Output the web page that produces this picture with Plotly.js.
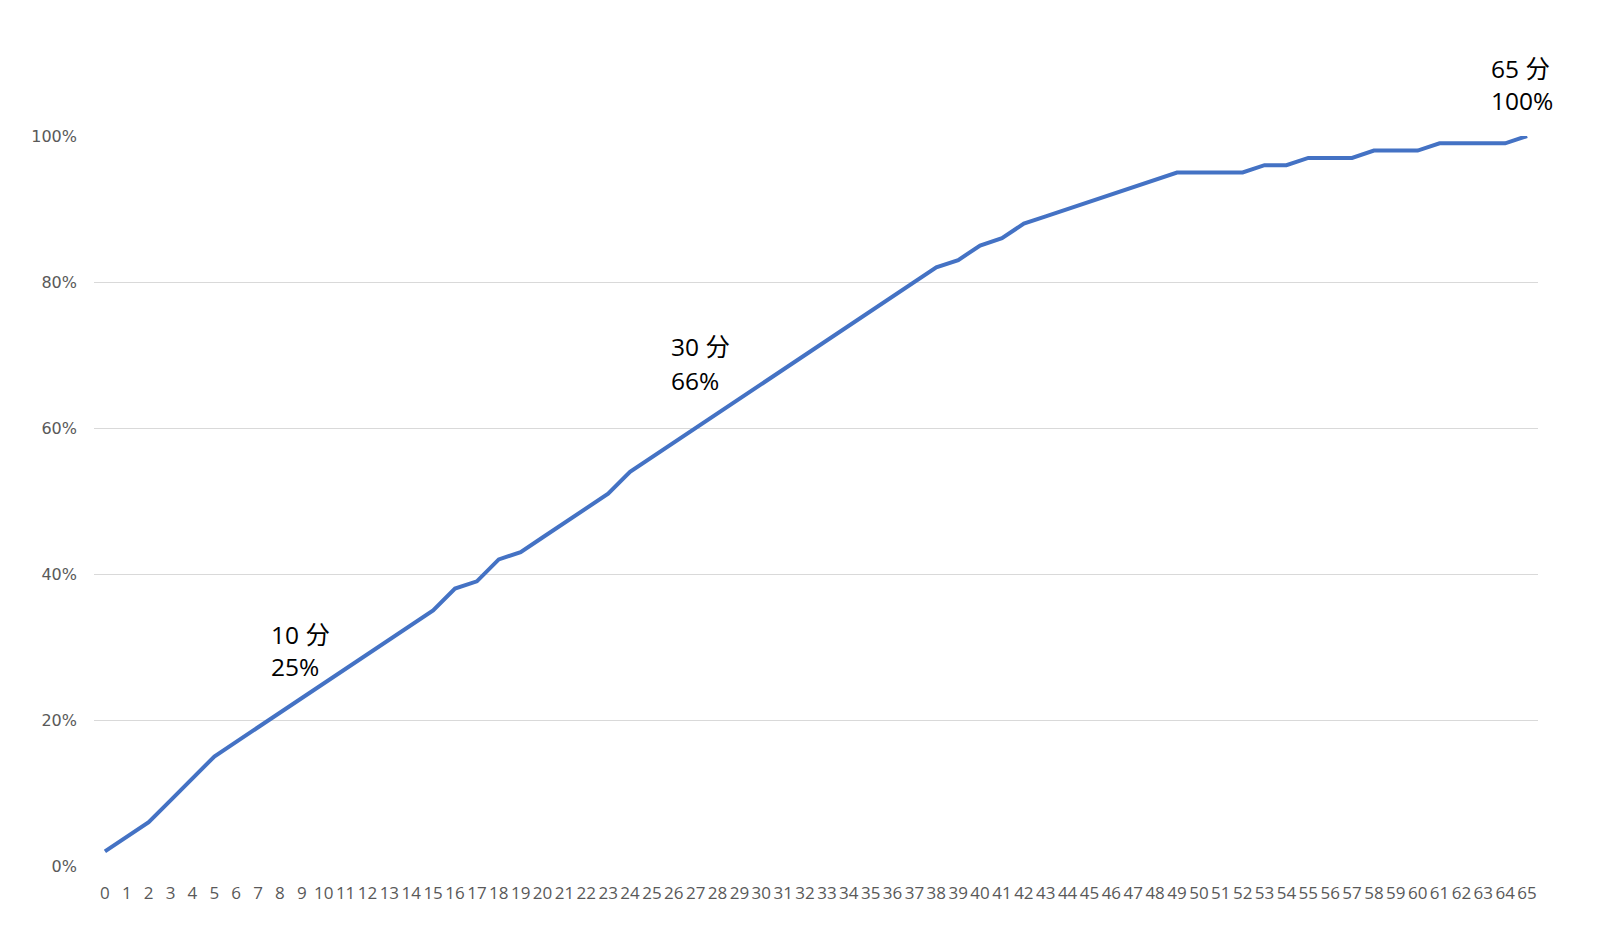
<!DOCTYPE html>
<html>
<head>
<meta charset="utf-8">
<script src="https://cdn.plot.ly/plotly-3.0.1.min.js"></script>
<style>
  html, body { margin: 0; padding: 0; background: #ffffff; }
  #chart { width: 1600px; height: 927px; }
</style>
</head>
<body>
<div id="chart"></div>
<script>
// Minutes (category labels on the x axis)
const minutes = [0,1,2,3,4,5,6,7,8,9,10,11,12,13,14,15,16,17,18,19,20,21,22,23,24,25,26,27,28,29,30,31,32,33,34,35,36,37,38,39,40,41,42,43,44,45,46,47,48,49,50,51,52,53,54,55,56,57,58,59,60,61,62,63,64,65];

// Cumulative share (%)
const cumulativePct = [2,4,6,9,12,15,17,19,21,23,25,27,29,31,33,35,38,39,42,43,45,47,49,51,54,56,58,60,62,64,66,68,70,72,74,76,78,80,82,83,85,86,88,89,90,91,92,93,94,95,95,95,95,96,96,97,97,97,98,98,98,99,99,99,99,100];

// Minutes that carry a label
const labelledMinutes = [10, 30, 65];

// Y axis ticks
const yTickVals = [0, 0.2, 0.4, 0.6, 0.8, 1.0];

// Label placement (pixel offsets from the labelled point) – layout only
const labelOffsets = [
  {dx: -55, dy1: 49, dy2: 17},
  {dx: -92, dy1: 38, dy2: 4},
  {dx: -38, dy1: 68, dy2: 36}
];

const yValues = cumulativePct.map(v => v / 100);

const trace = {
  x: minutes,
  y: yValues,
  type: 'scatter',
  mode: 'lines',
  line: {color: '#4472C4', width: 4},
  hoverinfo: 'x+y',
  cliponaxis: false
};

const annFont = {family: '"Open Sans", "Noto Sans CJK SC", sans-serif', size: 24.5, color: '#000000'};
const annotations = [];
labelledMinutes.forEach((m, k) => {
  const idx = minutes.indexOf(m);
  const v = cumulativePct[idx];
  const off = labelOffsets[k];
  annotations.push({
    x: m, y: v / 100, xref: 'x', yref: 'y',
    text: m + ' 分', showarrow: false,
    xanchor: 'left', yanchor: 'middle',
    xshift: off.dx, yshift: off.dy1, font: annFont
  });
  annotations.push({
    x: m, y: v / 100, xref: 'x', yref: 'y',
    text: v + '%', showarrow: false,
    xanchor: 'left', yanchor: 'middle',
    xshift: off.dx, yshift: off.dy2, font: annFont
  });
});

const layout = {
  width: 1600,
  height: 927,
  margin: {l: 94, r: 62, t: 136, b: 61, pad: 0},
  paper_bgcolor: '#ffffff',
  plot_bgcolor: '#ffffff',
  showlegend: false,
  xaxis: {
    type: 'linear',
    range: [-0.5, 65.5],
    tickmode: 'array',
    tickvals: minutes,
    ticktext: minutes.map(String),
    showgrid: false,
    zeroline: false,
    showline: false,
    ticks: '',
    ticklabelstandoff: 15,
    tickangle: 0,
    tickfont: {family: '"Open Sans", Arial, sans-serif', size: 17, color: '#595959'},
    fixedrange: true
  },
  yaxis: {
    range: [0, 1],
    tickmode: 'array',
    tickvals: yTickVals,
    tickformat: '.0%',
    showgrid: true,
    gridcolor: '#d9d9d9',
    gridwidth: 1,
    zeroline: false,
    showline: false,
    ticks: '',
    ticklabelstandoff: 16,
    tickfont: {family: '"DejaVu Sans", Verdana, sans-serif', size: 16, color: '#595959'},
    fixedrange: true
  },
  annotations: annotations
};

Plotly.newPlot('chart', [trace], layout, {displayModeBar: false, staticPlot: true});
</script>
</body>
</html>
